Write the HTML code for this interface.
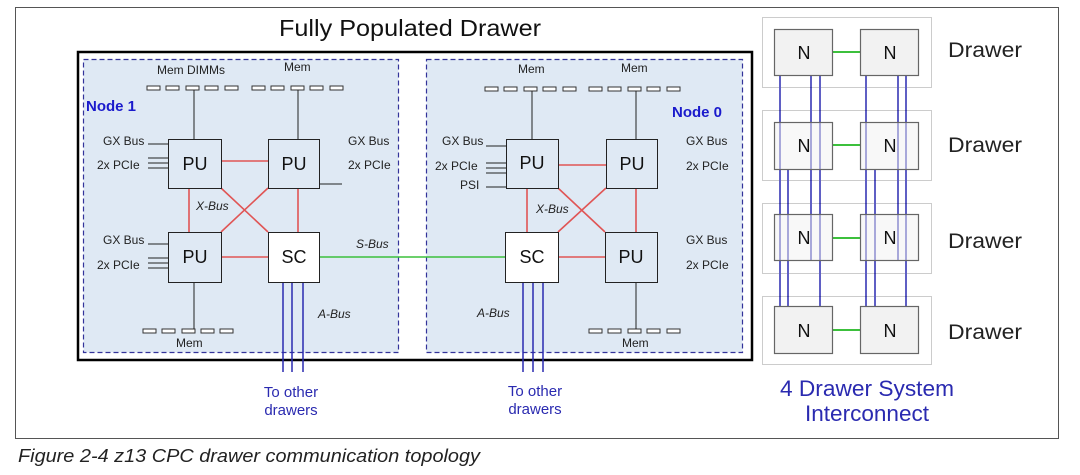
<!DOCTYPE html>
<html><head><meta charset="utf-8"><style>
html,body{margin:0;padding:0;background:#fff;}
svg{display:block;font-family:"Liberation Sans",sans-serif;}
</style></head><body>
<svg width="1080" height="475" viewBox="0 0 1080 475" xmlns="http://www.w3.org/2000/svg">
<defs>
<g id="dimm"><rect x="0" y="0" width="13" height="4" fill="#fff" stroke="#333" stroke-width="1"/></g>
</defs>
<rect x="15.5" y="7.5" width="1043" height="431" fill="#fff" stroke="#555" stroke-width="1"/>
<text x="410" y="36" font-size="23" text-anchor="middle" fill="#111" textLength="262" lengthAdjust="spacingAndGlyphs">Fully Populated Drawer</text>
<rect x="78" y="52" width="674" height="308" fill="#fff" stroke="#000" stroke-width="2.5"/>
<!-- nodes -->
<rect x="83.5" y="59.5" width="315" height="293" fill="#dfe9f4" stroke="#33339a" stroke-width="1.2" stroke-dasharray="5,3"/>
<rect x="426.5" y="59.5" width="316" height="293" fill="#dfe9f4" stroke="#33339a" stroke-width="1.2" stroke-dasharray="5,3"/>

<g font-size="12" fill="#222">
<text x="157" y="74">Mem  DIMMs</text>
<text x="284" y="71">Mem</text>
<text x="176" y="347">Mem</text>
<text x="103" y="145">GX Bus</text>
<text x="97" y="169">2x PCIe</text>
<text x="103" y="244">GX Bus</text>
<text x="97" y="269">2x PCIe</text>
<text x="348" y="145">GX Bus</text>
<text x="348" y="169">2x PCIe</text>
<text x="518" y="73">Mem</text>
<text x="621" y="72">Mem</text>
<text x="622" y="347">Mem</text>
<text x="442" y="145">GX Bus</text>
<text x="435" y="170">2x PCIe</text>
<text x="460" y="189">PSI</text>
<text x="686" y="145">GX Bus</text>
<text x="686" y="170">2x PCIe</text>
<text x="686" y="244">GX Bus</text>
<text x="686" y="269">2x PCIe</text>
</g>
<g font-size="12" font-style="italic" fill="#222">
<text x="196" y="210">X-Bus</text>
<text x="356" y="248">S-Bus</text>
<text x="318" y="318">A-Bus</text>
<text x="536" y="213">X-Bus</text>
<text x="477" y="317">A-Bus</text>
</g>
<text x="86" y="111" font-size="15" font-weight="bold" fill="#1a1acc">Node 1</text>
<text x="672" y="117" font-size="15" font-weight="bold" fill="#1a1acc">Node 0</text>

<g>
<use href="#dimm" x="147" y="86"/><use href="#dimm" x="166" y="86"/><use href="#dimm" x="186" y="86"/><use href="#dimm" x="205" y="86"/><use href="#dimm" x="225" y="86"/>
<use href="#dimm" x="252" y="86"/><use href="#dimm" x="271" y="86"/><use href="#dimm" x="291" y="86"/><use href="#dimm" x="310" y="86"/><use href="#dimm" x="330" y="86"/>
<use href="#dimm" x="143" y="329"/><use href="#dimm" x="162" y="329"/><use href="#dimm" x="182" y="329"/><use href="#dimm" x="201" y="329"/><use href="#dimm" x="220" y="329"/>
<use href="#dimm" x="485" y="87"/><use href="#dimm" x="504" y="87"/><use href="#dimm" x="524" y="87"/><use href="#dimm" x="543" y="87"/><use href="#dimm" x="563" y="87"/>
<use href="#dimm" x="589" y="87"/><use href="#dimm" x="608" y="87"/><use href="#dimm" x="628" y="87"/><use href="#dimm" x="647" y="87"/><use href="#dimm" x="667" y="87"/>
<use href="#dimm" x="589" y="329"/><use href="#dimm" x="608" y="329"/><use href="#dimm" x="628" y="329"/><use href="#dimm" x="647" y="329"/><use href="#dimm" x="667" y="329"/>
</g>
<g stroke="#222" stroke-width="1" fill="none">
<path d="M194 90V139M298 90V139M194 282V329"/>
<path d="M148 144H168M148 158H168M148 163H168M148 168H168"/>
<path d="M148 244H168M148 258H168M148 263H168M148 268H168" />
<path d="M319 184H342"/>
<path d="M532 91V139M636 91V139M636 282V329"/>
<path d="M486 146H506M486 163H506M486 168H506M486 173H506M486 187H506"/>
</g>
<g stroke="#e05555" stroke-width="1.6" fill="none">
<path d="M221 161H268M189 188V232M298 188V232M221 257H268M221 188L268 232M268 188L221 232"/>
<path d="M558 165H606M527 188V232M636 188V232M558 257H605M558 188L605 232M606 188L558 232"/>
</g>
<path d="M319 257H505" stroke="#3cc03c" stroke-width="1.5"/>
<g stroke="#2a2ab0" stroke-width="1.5">
<path d="M283 282V372M292 282V372M303 282V372M523 282V372M533 282V372M543 282V372"/>
</g>
<g stroke="#222" stroke-width="1" font-size="18" text-anchor="middle">
<rect x="168.5" y="139.5" width="53" height="49" fill="#dfe9f4"/><text x="195" y="170" stroke="none" fill="#111">PU</text>
<rect x="268.5" y="139.5" width="51" height="49" fill="#dfe9f4"/><text x="294" y="170" stroke="none" fill="#111">PU</text>
<rect x="168.5" y="232.5" width="53" height="50" fill="#dfe9f4"/><text x="195" y="263" stroke="none" fill="#111">PU</text>
<rect x="268.5" y="232.5" width="51" height="50" fill="#fff"/><text x="294" y="263" stroke="none" fill="#111">SC</text>
<rect x="506.5" y="139.5" width="52" height="49" fill="#dfe9f4"/><text x="532" y="169" stroke="none" fill="#111">PU</text>
<rect x="606.5" y="139.5" width="51" height="49" fill="#dfe9f4"/><text x="632" y="170" stroke="none" fill="#111">PU</text>
<rect x="505.5" y="232.5" width="53" height="50" fill="#fff"/><text x="532" y="263" stroke="none" fill="#111">SC</text>
<rect x="605.5" y="232.5" width="52" height="50" fill="#dfe9f4"/><text x="631" y="263" stroke="none" fill="#111">PU</text>
</g>
<g font-size="15" fill="#2a2ab0" text-anchor="middle">
<text x="291" y="397">To other</text><text x="291" y="415">drawers</text>
<text x="535" y="396">To other</text><text x="535" y="414">drawers</text>
</g>

<g fill="none" stroke="#999" stroke-width="1" stroke-dasharray="1,1">
<rect x="762.5" y="17.5" width="169" height="70"/>
<rect x="762.5" y="110.5" width="169" height="70"/>
<rect x="762.5" y="203.5" width="169" height="70"/>
<rect x="762.5" y="296.5" width="169" height="68"/>
</g>
<g stroke="#3cc03c" stroke-width="2">
<path d="M832 52H860M832 145H860M832 238H860M832 330H860"/>
</g>
<g stroke="#2a2ab0" stroke-width="1.5">
<path d="M780 76V306M788 169V306M811 76V260M820 76V306"/>
<path d="M866 76V306M875 169V306M898 76V260M906 76V306"/>
</g>
<g stroke="#666" stroke-width="1.2" font-size="18" text-anchor="middle">
<rect x="774.5" y="29.5" width="58" height="46" fill="#f2f2f2"/><text x="804" y="59" stroke="none" fill="#111">N</text>
<rect x="860.5" y="29.5" width="58" height="46" fill="#f2f2f2"/><text x="890" y="59" stroke="none" fill="#111">N</text>
<rect x="774.5" y="122.5" width="58" height="47" fill="#f2f2f2" fill-opacity="0.5"/><text x="804" y="152" stroke="none" fill="#111">N</text>
<rect x="860.5" y="122.5" width="58" height="47" fill="#f2f2f2" fill-opacity="0.5"/><text x="890" y="152" stroke="none" fill="#111">N</text>
<rect x="774.5" y="214.5" width="58" height="46" fill="#f2f2f2" fill-opacity="0.5"/><text x="804" y="244" stroke="none" fill="#111">N</text>
<rect x="860.5" y="214.5" width="58" height="46" fill="#f2f2f2" fill-opacity="0.5"/><text x="890" y="244" stroke="none" fill="#111">N</text>
<rect x="774.5" y="306.5" width="58" height="47" fill="#f2f2f2"/><text x="804" y="337" stroke="none" fill="#111">N</text>
<rect x="860.5" y="306.5" width="58" height="47" fill="#f2f2f2"/><text x="890" y="337" stroke="none" fill="#111">N</text>
</g>
<g font-size="21" fill="#222">
<text x="948" y="57" textLength="74" lengthAdjust="spacingAndGlyphs">Drawer</text>
<text x="948" y="152" textLength="74" lengthAdjust="spacingAndGlyphs">Drawer</text>
<text x="948" y="248" textLength="74" lengthAdjust="spacingAndGlyphs">Drawer</text>
<text x="948" y="339" textLength="74" lengthAdjust="spacingAndGlyphs">Drawer</text>
</g>
<g font-size="22" fill="#2a2ab0" text-anchor="middle">
<text x="867" y="396" textLength="174" lengthAdjust="spacingAndGlyphs">4 Drawer System</text>
<text x="867" y="421" textLength="124" lengthAdjust="spacingAndGlyphs">Interconnect</text>
</g>
<text x="18" y="462" font-size="18" font-style="italic" fill="#222" textLength="462" lengthAdjust="spacingAndGlyphs">Figure 2-4   z13 CPC drawer communication topology</text>
</svg>
</body></html>
